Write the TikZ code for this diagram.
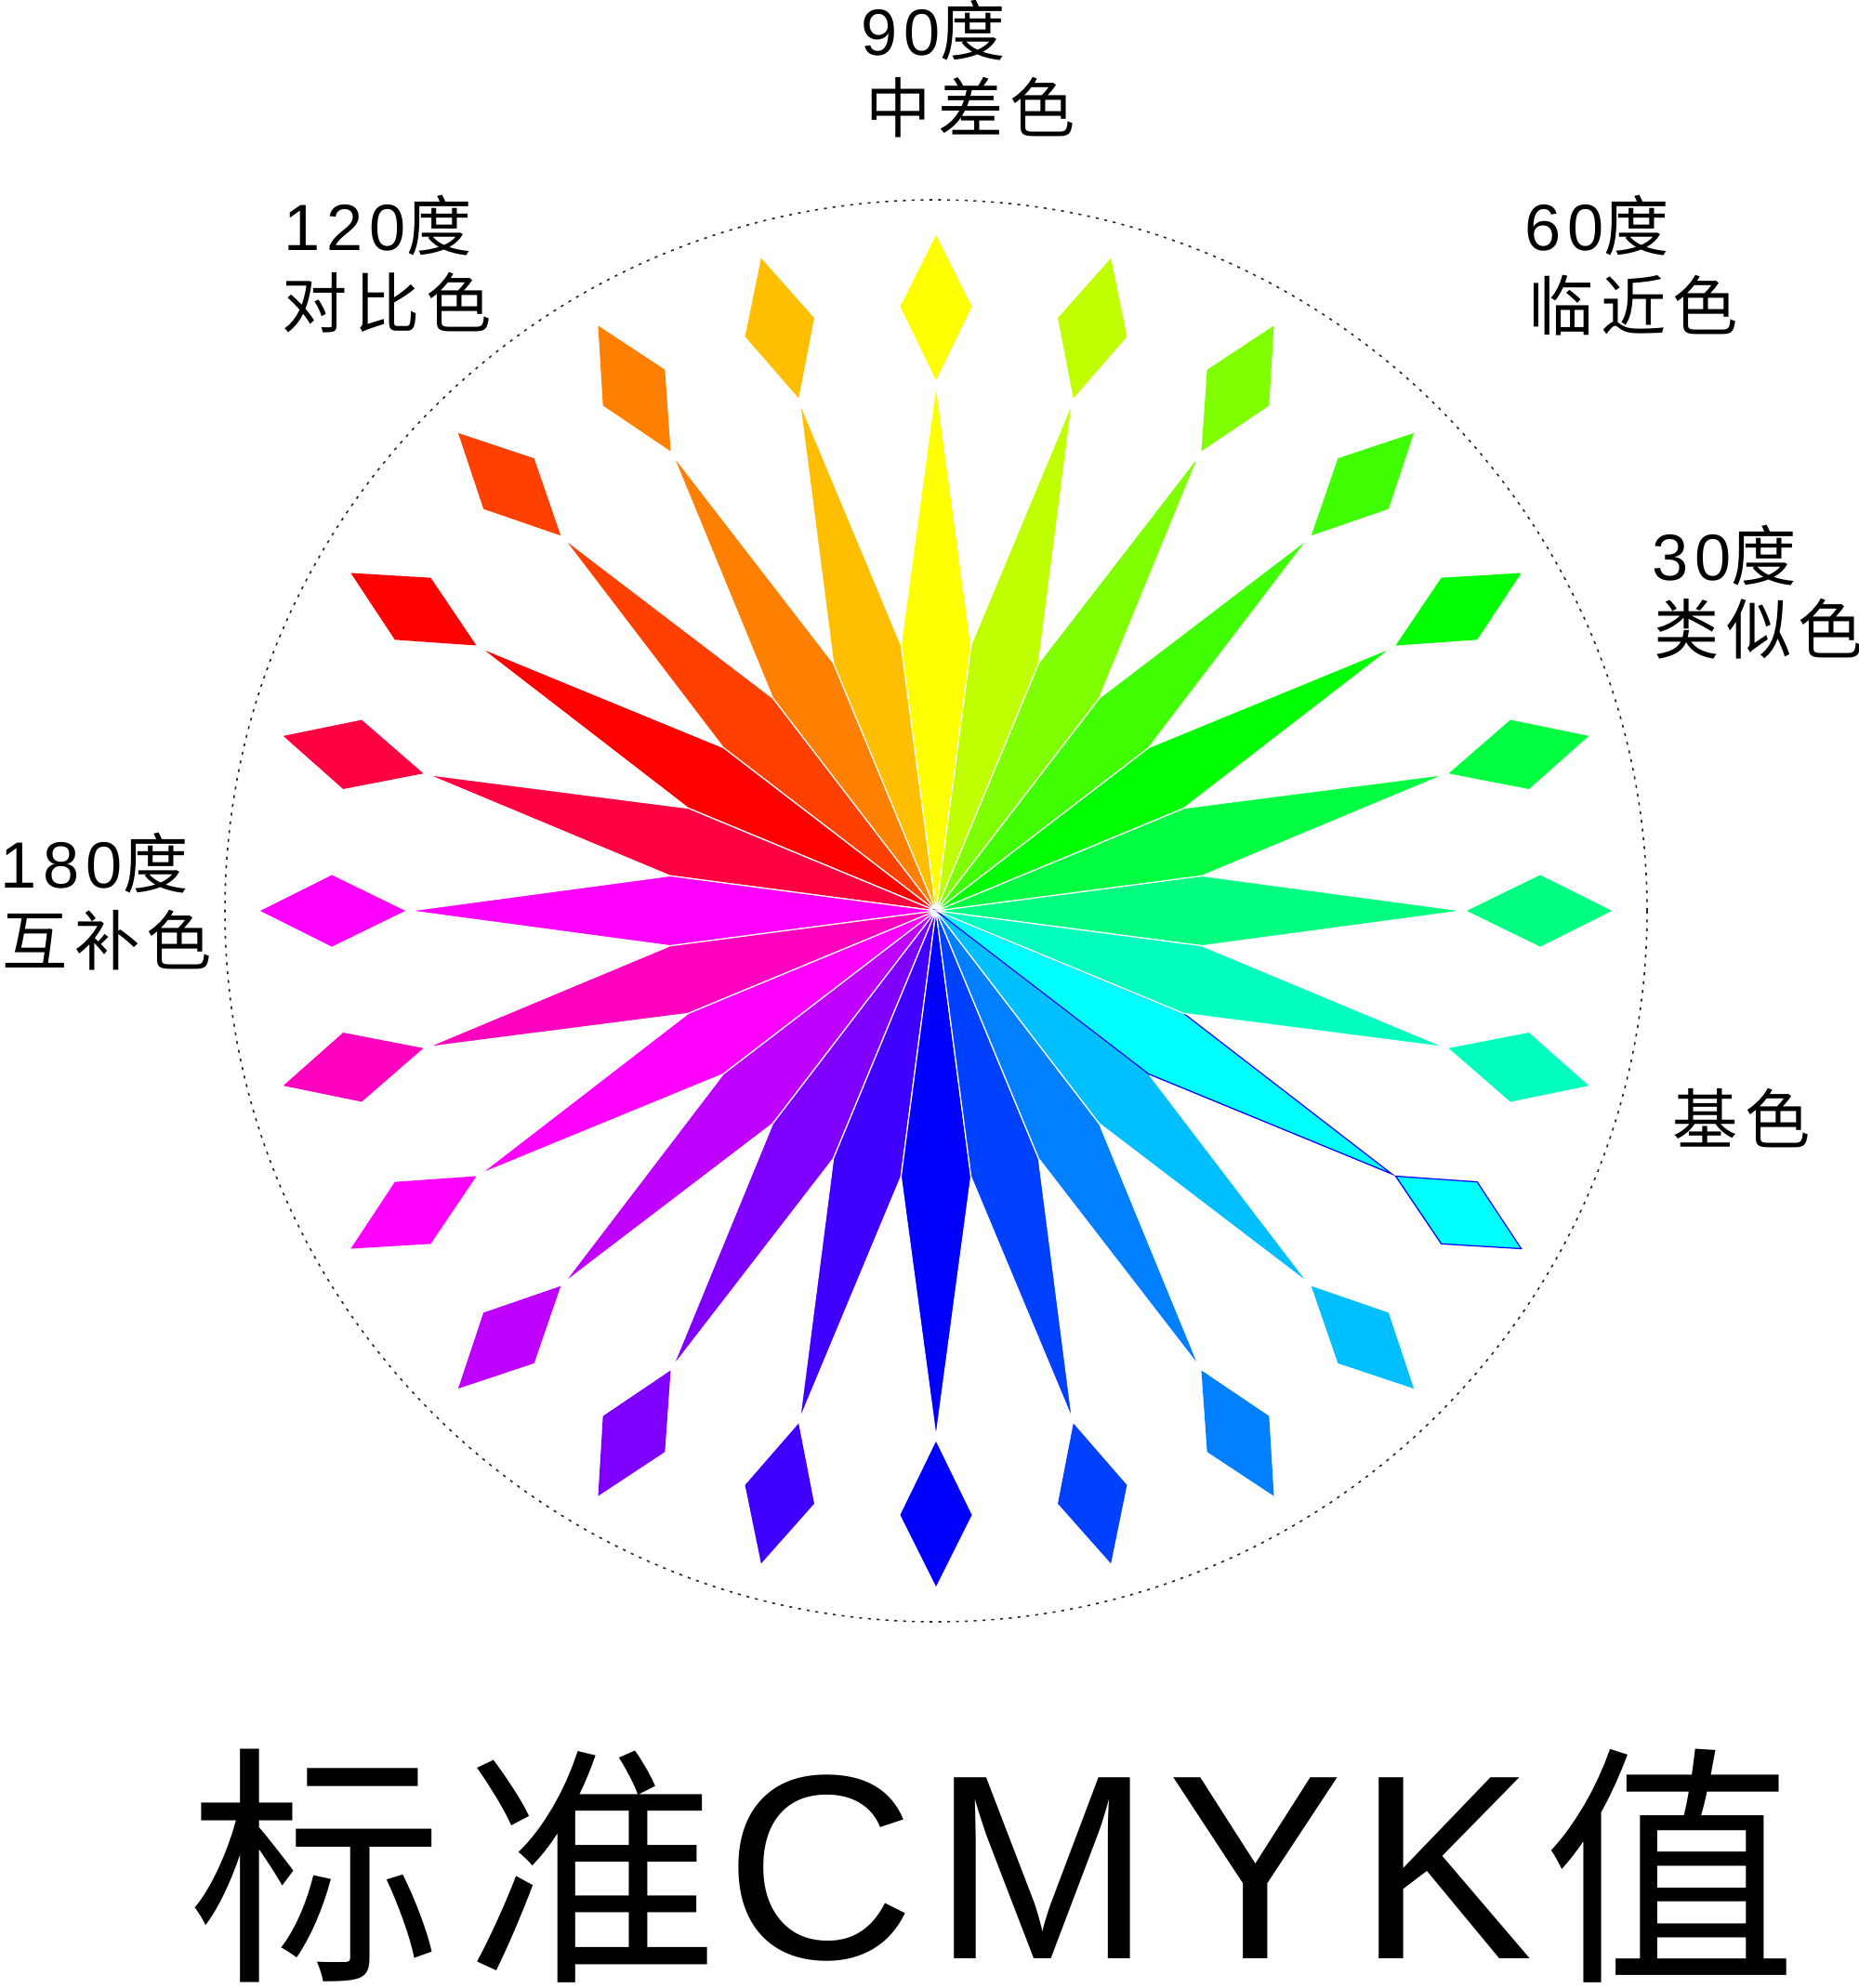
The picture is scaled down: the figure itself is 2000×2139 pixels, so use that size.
\documentclass[tikz,border=0pt]{standalone}
\usepackage{fontspec}
\usepackage{graphicx}
\newfontfamily\lat{Liberation Sans}[LetterSpace=10]
\newfontfamily\cjk{Noto Sans CJK SC}[LetterSpace=10]
\newfontfamily\latT{Liberation Sans}
\newfontfamily\cjkT{Noto Sans CJK SC}
\newdimen\pxu \pxu=0.28453pt
\newcommand\lowcjk[1]{\raisebox{-4\pxu}[\height][0pt]{\scalebox{0.965}{\cjkT #1}}}
\tikzset{
  lab/.style={anchor=base west, inner sep=0pt, font=\fontsize{20pt}{24pt}\selectfont},
  bladeshape/.style={fill=cur, draw=\e, line width=0.35pt},
  diashape/.style={fill=cur},
  ring/.style={draw=black!85, line width=0.45pt, dash pattern=on 0.9pt off 1.8pt}
}
\begin{document}
\begin{tikzpicture}[x=0.01cm, y=0.01cm]
\useasboundingbox (0,0) rectangle (2000,-2139);
\coordinate (c) at (1007,-980);
\draw[ring] (c) circle (765);
\foreach \a/\col/\e in {0/00FF80/white, 15/00FF40/white, 30/00FF00/white, 45/40FF00/white,
  60/80FF00/white, 75/BFFF00/white, 90/FFFF00/white, 105/FFBF00/white, 120/FF8000/white,
  135/FF4000/white, 150/FF0000/white, 165/FF0040/white, 180/FF00FF/white, 195/FF00BF/white,
  210/FF00FF/white, 225/BF00FF/white, 240/8000FF/white, 255/4000FF/white, 270/0000FF/white,
  285/0040FF/white, 300/0080FF/white, 315/00BFFF/white, 330/00FFFF/blue, 345/00FFBF/white}{
  \definecolor{cur}{HTML}{\col}
  \begin{scope}[shift={(c)}, rotate=\a]
    \path[bladeshape] (0,0) -- (286,37.66) -- (566,0) -- (286,-37.66) -- cycle;
    \path[diashape] (571,0) -- (650,38.5) -- (727,0) -- (650,-38.5) -- cycle;
  \end{scope}
}
% cyan diamond outline
\begin{scope}[shift={(c)}, rotate=330]
  \draw[blue, line width=0.35pt] (571,0) -- (650,38.5) -- (727,0) -- (650,-38.5) -- cycle;
\end{scope}
% labels
\node[lab] (l90a) at (926,-60) {{\lat 90}{\cjk 度}};
\node[lab] (l90b) at (931,-142) {{\cjk 中差色}};
\node[lab] (l120a) at (305,-269) {{\lat 120}{\cjk 度}};
\node[lab] (l120b) at (303,-352) {{\cjk 对比色}};
\node[lab] (l60a) at (1640,-269) {{\lat 60}{\cjk 度}};
\node[lab] (l60b) at (1644,-355) {{\cjk 临近色}};
\node[lab] (l30a) at (1777,-624) {{\lat 30}{\cjk 度}};
\node[lab] (l30b) at (1779,-703) {{\cjk 类似色}};
\node[lab] (l180a) at (0,-955) {{\lat 180}{\cjk 度}};
\node[lab] (l180b) at (2,-1038) {{\cjk 互补色}};
\node[lab] (lbase) at (1799,-1230) {{\cjk 基色}};
% title
\node[anchor=base west, inner sep=0pt, font=\fontsize{80.5pt}{90pt}\selectfont] (title) at (203,-2107)
  {\lowcjk{标}\kern24\pxu\lowcjk{准}\kern6\pxu{\latT C\kern19\pxu M\kern17\pxu Y\kern16\pxu K}\kern10\pxu\lowcjk{值}};
\end{tikzpicture}
\end{document}
